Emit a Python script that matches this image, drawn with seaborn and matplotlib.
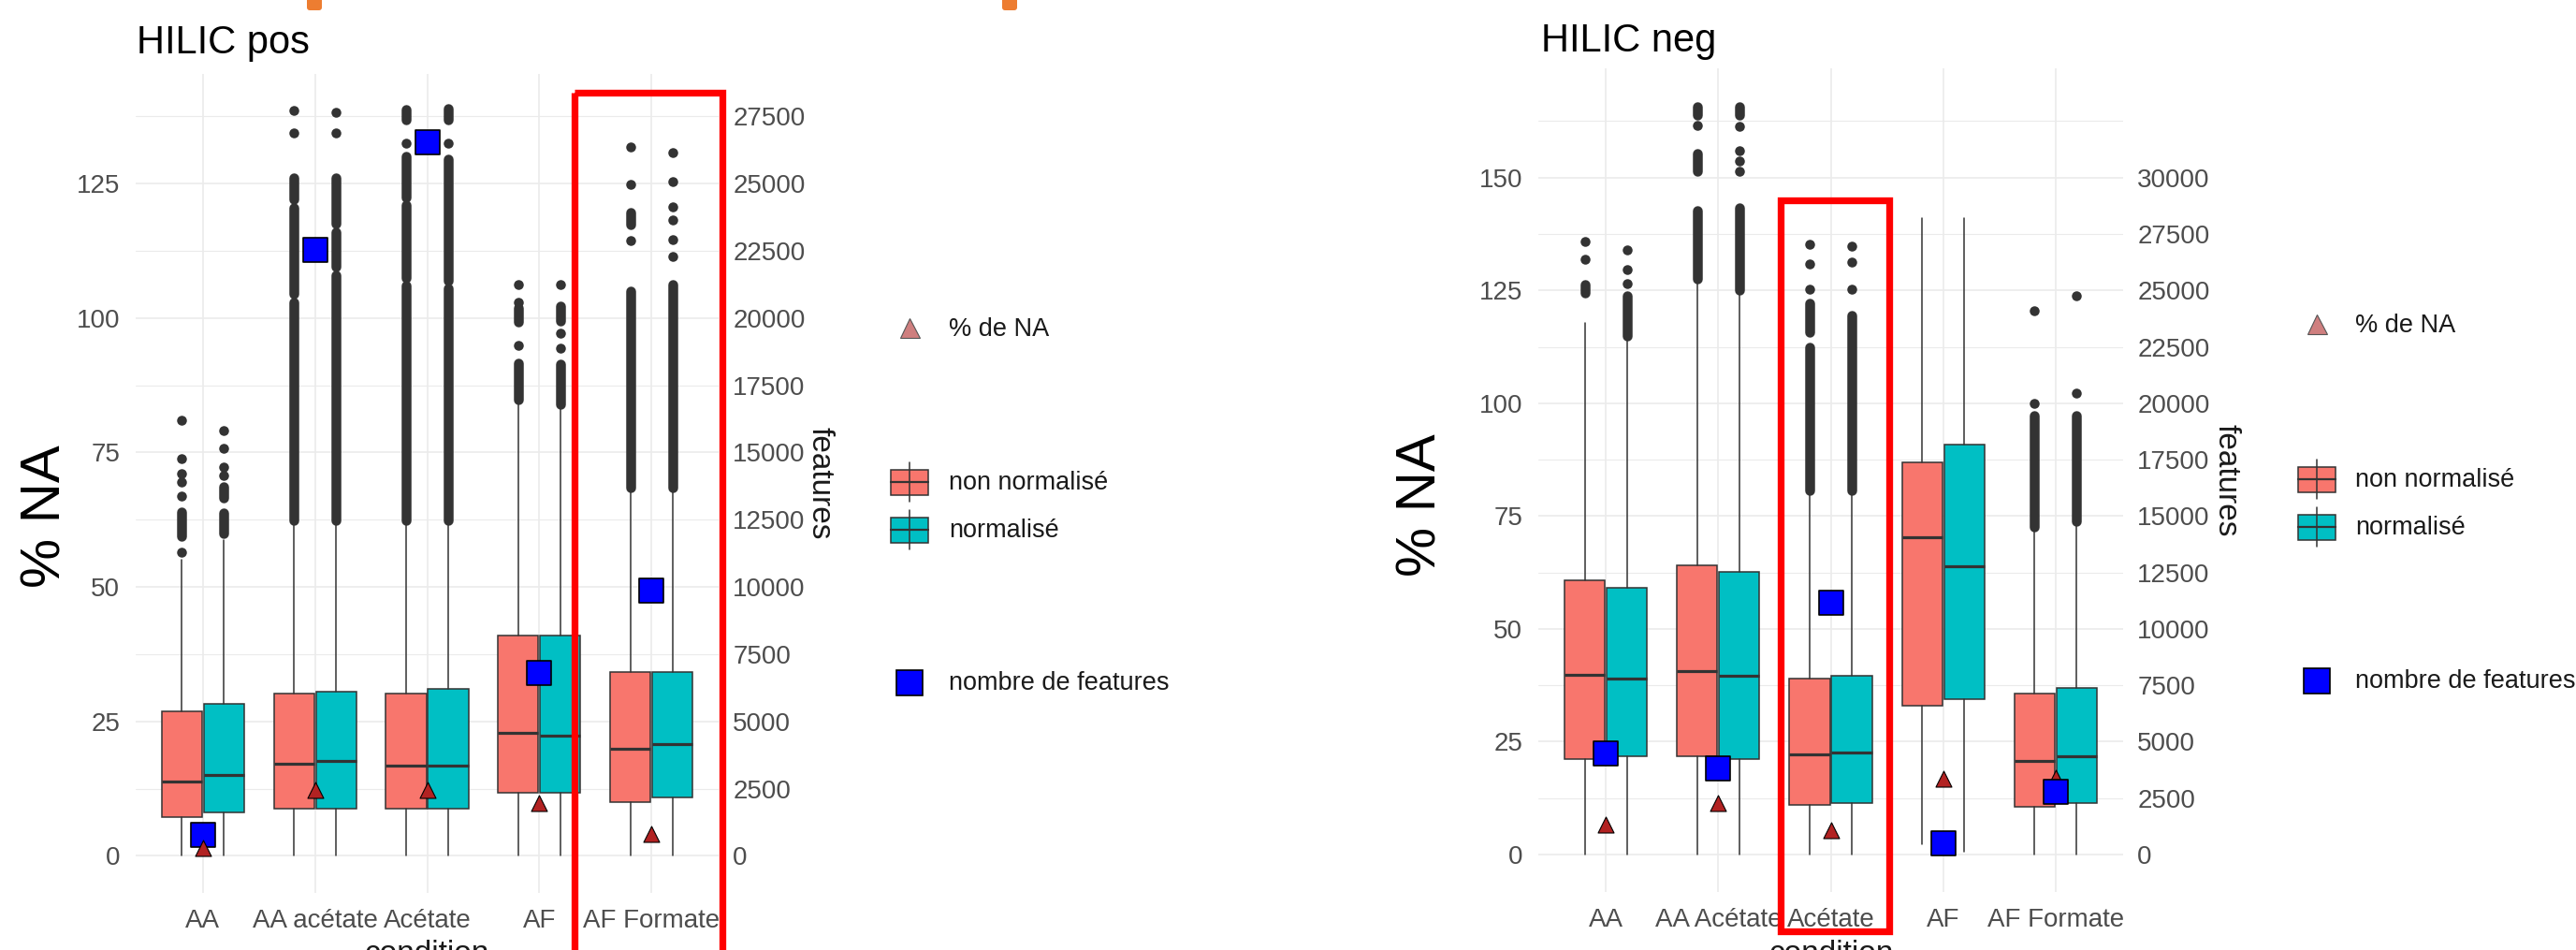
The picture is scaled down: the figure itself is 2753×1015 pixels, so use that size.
import matplotlib

matplotlib.use("Agg")
import matplotlib.pyplot as plt
import numpy as np
import seaborn as sns
from matplotlib.patches import FancyBboxPatch, Rectangle

# ---------------- HILIC pos ----------------
POS_CONDITIONS = ["AA", "AA acétate", "Acétate", "AF", "AF Formate"]
POS_NON_Q1 = [7.2, 8.7, 8.7, 11.7, 10.0]
POS_NON_MED = [13.8, 17.2, 16.7, 22.9, 19.9]
POS_NON_Q3 = [26.9, 30.2, 30.2, 40.9, 34.2]
POS_NON_WLO = [0.0, 0.0, 0.0, 0.0, 0.0]
POS_NON_WHI = [55.0, 62.3, 62.3, 84.8, 68.5]
POS_NON_OUTLIERS = [
    [81.0, 73.8, 71.0, 69.5, 66.9, 56.4],
    [134.4, 138.6],
    [132.5],
    [94.9, 103.0, 106.2],
    [114.4, 124.8, 131.8],
]
POS_NON_DENSE = [
    [(59.4, 64.0)],
    [(62.3, 103.0), (104.5, 120.5), (122.0, 126.0)],
    [(62.3, 106.0), (107.5, 121.0), (122.5, 130.0), (136.8, 138.8)],
    [(84.8, 91.6), (99.2, 101.8)],
    [(68.5, 105.1), (117.4, 119.7)],
]
POS_NORM_Q1 = [8.0, 8.7, 8.7, 11.7, 10.9]
POS_NORM_MED = [15.0, 17.6, 16.7, 22.4, 20.7]
POS_NORM_Q3 = [28.3, 30.6, 31.0, 40.9, 34.2]
POS_NORM_WLO = [0.0, 0.0, 0.0, 0.0, 0.0]
POS_NORM_WHI = [58.8, 62.3, 62.3, 84.0, 68.5]
POS_NORM_OUTLIERS = [
    [79.1, 75.7, 72.3, 70.7],
    [134.4, 138.3],
    [132.5],
    [94.4, 97.2, 106.2],
    [111.4, 114.6, 118.2, 120.7, 125.3, 130.7],
]
POS_NORM_DENSE = [
    [(66.6, 68.7), (60.0, 63.8)],
    [(62.3, 108.0), (109.5, 116.0), (117.5, 126.0)],
    [(62.3, 105.5), (107.0, 129.5), (136.8, 139.0)],
    [(84.0, 91.4), (99.4, 102.2)],
    [(68.5, 106.2)],
]
POS_PCT_NA = [1.5, 12.2, 12.2, 9.75, 4.1]
POS_FEATURES = [770, 22530, 26540, 6810, 9850]

# ---------------- HILIC neg ----------------
NEG_CONDITIONS = ["AA", "AA Acétate", "Acétate", "AF", "AF Formate"]
NEG_NON_Q1 = [21.1, 21.7, 11.0, 32.9, 10.5]
NEG_NON_MED = [39.9, 40.7, 22.2, 70.2, 20.8]
NEG_NON_Q3 = [60.8, 64.0, 38.9, 86.9, 35.6]
NEG_NON_WLO = [0.0, 0.0, 0.0, 2.3, 0.0]
NEG_NON_WHI = [117.8, 127.6, 80.6, 141.0, 72.5]
NEG_NON_OUTLIERS = [
    [131.9, 135.9],
    [161.5],
    [125.2, 130.9, 135.2],
    [],
    [100.0, 120.4],
]
NEG_NON_DENSE = [
    [(124.4, 126.2)],
    [(127.6, 142.6), (151.3, 155.4), (163.8, 165.8)],
    [(80.6, 112.3), (115.8, 122.2)],
    [],
    [(72.5, 97.3)],
]
NEG_NORM_Q1 = [21.7, 21.1, 11.4, 34.5, 11.4]
NEG_NORM_MED = [38.9, 39.6, 22.6, 63.8, 21.7]
NEG_NORM_Q3 = [59.1, 62.7, 39.6, 90.9, 36.9]
NEG_NORM_WLO = [0.0, 0.0, 0.0, 0.7, 0.0]
NEG_NORM_WHI = [113.9, 125.1, 80.6, 141.0, 73.8]
NEG_NORM_OUTLIERS = [
    [126.5, 129.6, 134.0],
    [151.3, 153.6, 155.9, 161.4],
    [125.2, 131.3, 134.9],
    [],
    [102.3, 123.8],
]
NEG_NORM_DENSE = [
    [(114.8, 123.8)],
    [(125.1, 143.2), (163.8, 165.8)],
    [(80.6, 119.5)],
    [],
    [(73.8, 97.3)],
]
NEG_PCT_NA = [6.7, 11.4, 5.4, 16.8, 17.0]
NEG_FEATURES = [4470, 3830, 11170, 480, 2760]

GROUP_LABELS = ["non normalisé", "normalisé"]

# ---------------- style ----------------
W, H, DPI = 2753, 1015, 100
PT = 72 / DPI  # points per pixel
RED = "#F8766D"
TEAL = "#00BFC4"
DARK = "#333333"
GRID = "#EBEBEB"
TICK = "#4D4D4D"
SEC_SCALE = 200  # features = % NA * 200
OFFSET = 0.1875
BOX_W = 0.36
TICK_SIZE = 20
LEGEND_SIZE = 19.5

sns.set_theme(style="white")
plt.rcParams["font.family"] = ["Liberation Sans", "DejaVu Sans"]


def px_axes(fig, left, top, right, bottom):
    return fig.add_axes([left / W, 1 - bottom / H, (right - left) / W, (bottom - top) / H])


def draw_group(ax, x, q1, med, q3, wlo, whi, outliers, dense, color):
    stats = [
        dict(q1=a, med=b, q3=c, whislo=d, whishi=e, fliers=[])
        for a, b, c, d, e in zip(q1, med, q3, wlo, whi)
    ]
    ax.bxp(
        stats, positions=x, widths=BOX_W, patch_artist=True, showfliers=False,
        showcaps=False, manage_ticks=False,
        boxprops=dict(facecolor=color, edgecolor=DARK, linewidth=1.1),
        medianprops=dict(color=DARK, linewidth=2.3),
        whiskerprops=dict(color=DARK, linewidth=1.1),
    )
    for xi, runs in zip(x, dense):
        for lo, hi in runs:
            ax.plot([xi, xi], [lo, hi], color=DARK, lw=10.5 * PT, solid_capstyle="round", zorder=3)
    fx = [xi for xi, vals in zip(x, outliers) for _ in vals]
    fy = [v for vals in outliers for v in vals]
    if fy:
        sns.scatterplot(x=fx, y=fy, ax=ax, color=DARK, s=(10.5 * PT) ** 2, linewidth=0,
                        legend=False, zorder=3)


def draw_panel(fig, box, conditions, non, norm, pct_na, features, ylim, major_top,
               sec_top, triangle_on_top):
    ax = px_axes(fig, *box)
    x = np.arange(len(conditions))
    draw_group(ax, x - OFFSET, *non, RED)
    draw_group(ax, x + OFFSET, *norm, TEAL)

    ax2 = ax.twinx()
    ax2.set_ylim(ylim[0] * SEC_SCALE, ylim[1] * SEC_SCALE)

    tri_z, sq_z = (6, 5) if triangle_on_top else (5, 6)
    sns.scatterplot(x=x, y=pct_na, ax=ax, marker="^", s=(17 * PT) ** 2, color="#B22222",
                    edgecolor="black", linewidth=0.8, legend=False, zorder=tri_z)
    sns.scatterplot(x=x, y=features, ax=ax, marker="s", s=(27 * PT) ** 2, color="#0000FF",
                    edgecolor="black", linewidth=1.2, legend=False, zorder=sq_z,
                    transform=ax2.transData)

    ax.set_xlim(-0.6, len(conditions) - 0.4)
    ax.set_ylim(*ylim)
    ax.set_xticks(x, conditions)
    ax.set_yticks(np.arange(0, major_top + 1, 25))
    ax.set_yticks(np.arange(12.5, ylim[1], 25), minor=True)
    ax.grid(which="major", axis="both", color=GRID, lw=1.2)
    ax.grid(which="minor", axis="y", color=GRID, lw=0.8)
    ax.set_axisbelow(True)
    ax.tick_params(axis="both", which="both", length=0, labelsize=TICK_SIZE, labelcolor=TICK)
    ax.tick_params(axis="y", pad=12)
    ax.tick_params(axis="x", pad=12)
    ax.set_xlabel("")
    ax.set_ylabel("")

    ax2.set_yticks(np.arange(0, sec_top + 1, 2500))
    ax2.grid(False)
    ax2.tick_params(axis="y", length=0, labelsize=TICK_SIZE, labelcolor=TICK, pad=11)
    for a in (ax, ax2):
        for sp in a.spines.values():
            sp.set_visible(False)
    return ax


def draw_legend(ov, xk, xt, y_tri, y_non, y_norm, y_sq):
    ov.plot([xk], [y_tri], marker="^", ms=21 * PT, mfc="#CF7F7F", mec="#555555", mew=0.8)
    ov.text(xt, y_tri + 2, "% de NA", fontsize=LEGEND_SIZE, color="#1A1A1A", va="center", ha="left")
    for y, color, label in ((y_non, RED, GROUP_LABELS[0]), (y_norm, TEAL, GROUP_LABELS[1])):
        ov.plot([xk, xk], [y - 21, y + 21], color=DARK, lw=1.1)
        ov.add_patch(Rectangle((xk - 20, y - 13.5), 40, 27, facecolor=color, edgecolor=DARK, lw=1.1))
        ov.plot([xk - 20, xk + 20], [y, y], color=DARK, lw=1.6)
        ov.text(xt, y + 1, label, fontsize=LEGEND_SIZE, color="#1A1A1A", va="center", ha="left")
    ov.add_patch(Rectangle((xk - 14, y_sq - 13.5), 28, 27, facecolor="#0000FF",
                           edgecolor="black", lw=1.2))
    ov.text(xt, y_sq + 1, "nombre de features", fontsize=LEGEND_SIZE, color="#1A1A1A",
            va="center", ha="left")


fig = plt.figure(figsize=(W / DPI, H / DPI), dpi=DPI)
fig.patch.set_facecolor("white")

draw_panel(
    fig, (145, 79, 768, 954), POS_CONDITIONS,
    (POS_NON_Q1, POS_NON_MED, POS_NON_Q3, POS_NON_WLO, POS_NON_WHI, POS_NON_OUTLIERS, POS_NON_DENSE),
    (POS_NORM_Q1, POS_NORM_MED, POS_NORM_Q3, POS_NORM_WLO, POS_NORM_WHI, POS_NORM_OUTLIERS, POS_NORM_DENSE),
    POS_PCT_NA, POS_FEATURES, (-6.9, 145.4), 125, 27500, True,
)
draw_panel(
    fig, (1644, 73, 2269, 953), NEG_CONDITIONS,
    (NEG_NON_Q1, NEG_NON_MED, NEG_NON_Q3, NEG_NON_WLO, NEG_NON_WHI, NEG_NON_OUTLIERS, NEG_NON_DENSE),
    (NEG_NORM_Q1, NEG_NORM_MED, NEG_NORM_Q3, NEG_NORM_WLO, NEG_NORM_WHI, NEG_NORM_OUTLIERS, NEG_NORM_DENSE),
    NEG_PCT_NA, NEG_FEATURES, (-8.3, 174.2), 150, 30000, False,
)

# overlay in pixel coordinates for titles, labels, legends and annotations
ov = fig.add_axes([0, 0, 1, 1])
ov.set_xlim(0, W)
ov.set_ylim(H, 0)
ov.set_axis_off()
ov.patch.set_visible(False)

ov.text(146, 57, "HILIC pos", fontsize=30, color="black", ha="left", va="baseline")
ov.text(1647, 55, "HILIC neg", fontsize=30, color="black", ha="left", va="baseline")
ov.text(49, 552, "% NA", fontsize=43, rotation=90, ha="center", va="center", color="black")
ov.text(1519, 540, "% NA", fontsize=43, rotation=90, ha="center", va="center", color="black")
ov.text(876, 516, "features", fontsize=24, rotation=270, ha="center", va="center", color="#1A1A1A")
ov.text(2379, 513, "features", fontsize=24, rotation=270, ha="center", va="center", color="#1A1A1A")
# the x title sits at the very bottom edge and is cut off, as in the slide
ov.text(456, 1004, "condition", fontsize=24, ha="center", va="top", color="#1A1A1A")
ov.text(1957, 1004, "condition", fontsize=24, ha="center", va="top", color="#1A1A1A")

draw_legend(ov, 972, 1014, 350, 515, 566, 729)
draw_legend(ov, 2476, 2517, 346, 512, 563, 727)

# highlight boxes and marks from the slide
ov.add_patch(Rectangle((613.5, 98.5), 158, 1000, fill=False, edgecolor="#FF0000",
                       lw=7.3 * PT, joinstyle="miter"))
ov.add_patch(Rectangle((1902.5, 213.5), 116, 781, fill=False, edgecolor="#FF0000",
                       lw=7.3 * PT, joinstyle="miter"))
for ox in (328, 1071):
    ov.add_patch(FancyBboxPatch((ox, -8), 16, 19, boxstyle="round,pad=0,rounding_size=3",
                                facecolor="#ED7D31", edgecolor="none"))

fig.savefig("out.png", dpi=DPI)
plt.close(fig)
